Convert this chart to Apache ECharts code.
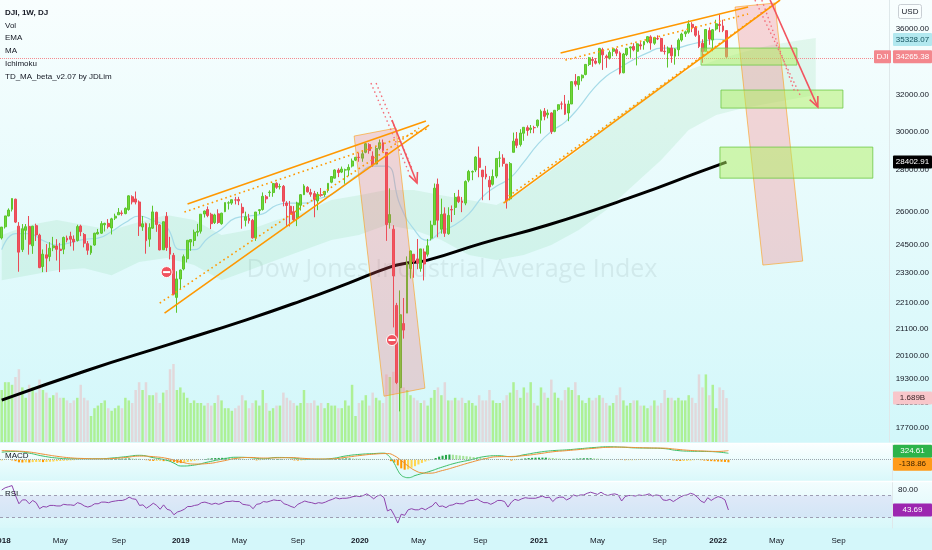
<!DOCTYPE html>
<html>
<head>
<meta charset="utf-8">
<title>DJI 1W</title>
<script src="https://cdn.jsdelivr.net/npm/echarts@6.0.0/dist/echarts.min.js"></script>
<style>
html,body{margin:0;padding:0;background:#eafbfc;}
#chart{width:932px;height:550px;}
</style>
</head>
<body>
<div id="chart"></div>
<script>
// ================= DATA (weekly DJI, week of 2018-01-01 .. 2022-01-17) =================
const weekOpen = [
24809,25308,25800,26110,26584,25338,24300,25150,25320,24468,25360,24935,23580,24076,24000,24380,24458,24318,24317,24800,24883,24753,24700,25340,24960,24560,24162,24500,24988,25023,25400,25463,25255,25703,25855,25940,25910,26100,26700,26598,26453,25300,25451,24757,25246,25970,25390,24294,25779,24400,24053,22317,
23062,23474,23909,24629,24700,25062,25108,25890,26100,25880,25500,25900,25450,26000,26400,26400,26550,26570,26200,25600,25700,25600,24820,26050,26100,26700,26900,26900,27350,27170,27200,26400,26250,26000,25700,26300,26800,27150,26900,26850,26500,26800,26800,27000,27400,27600,28000,27900,28000,28000,28200,28500,
28650,28600,28900,29300,28700,28300,29100,29400,28900,25500,25200,22000,19000,21300,21700,23500,24100,23900,23500,24200,24100,24800,25400,27300,25200,25900,25000,26100,26200,26700,26500,26400,27500,27900,28000,28600,28000,27800,27500,27300,27700,28600,28600,28300,26600,28900,29600,29300,29900,30200,30100,30200,30300,
30600,31100,30900,31000,30000,31200,31500,31500,31000,31500,32800,32600,33000,33200,33800,34100,34000,33900,34700,34300,34200,34600,34700,34500,33300,34400,34800,34900,34600,35000,35000,35200,35500,35100,35400,35400,34600,34500,34800,34300,34700,35300,35700,35800,36300,36100,35600,35100,34600,35900,35300,36000,
36300,36200,35900];
const weekHigh = [
25296,25804,26153,26617,26608,25520,25432,25432,25800,25350,25449,25000,24307,24540,24625,24858,24757,24592,24872,24915,25086,24925,25402,25403,25028,24674,24478,25040,25211,25562,25490,25658,25717,25907,26167,26057,26196,26769,26769,26951,26527,25801,25495,25465,26277,26000,25429,25538,25980,24858,24156,23381,
23450,24090,24706,24749,25180,25441,25883,26052,26241,25950,25905,26109,25949,26425,26485,26565,26695,26696,26388,26000,25897,25664,25984,26122,26907,26781,27008,27360,27398,27329,27265,26490,26500,26260,26464,26828,27306,27210,27079,26980,26930,27120,26975,27350,27700,28036,28090,28175,28070,28290,28582,28665,
28872,29009,29373,29373,28950,29235,29568,29568,28900,27102,25380,22100,22595,22293,24008,24262,24100,24764,24331,24346,24766,25585,27338,27580,26610,26200,26204,26289,26880,27030,26690,27491,28008,27981,28703,29199,28000,28210,27700,28029,28600,28958,28800,28300,28402,29933,29964,30116,30218,30319,30340,30300,30637,
31193,31272,31189,31037,31160,31470,31644,32009,31700,32793,33227,33098,33200,33800,34256,34256,34180,34811,34820,34400,34650,34800,34800,34600,34500,34800,34900,35100,35100,35171,35240,35530,35600,35500,35600,35450,35000,34900,35000,34800,35400,35765,35900,36566,36440,36200,35900,35350,36000,36100,36000,36600,
36952,36600,35900];
const weekLow = [
24741,25229,25788,26009,25478,23360,24195,24728,24083,24117,24674,23509,23344,23345,23798,24233,23830,23345,24104,24618,24442,24255,24652,24891,24397,24076,24077,24465,24966,24988,25097,25224,24965,25615,25855,25815,25879,26045,26338,26338,24899,25127,24123,24423,25214,25082,24268,24294,24243,23881,22397,21713,
22638,23418,23751,24247,24449,24883,25005,25730,25745,25208,25435,25442,25401,25978,26100,26318,26338,26305,25222,25325,25452,24780,24680,25883,26050,26396,26700,26700,27080,27050,26250,25339,25323,25550,25339,26050,26780,26900,26700,25743,26070,26700,26700,26900,27350,27590,27650,27850,27325,27700,28130,28450,
28419,28418,28850,28828,28169,28300,29012,28900,24681,25226,21154,19122,18214,20735,21700,23079,23109,23465,23361,23001,24000,24700,25400,24843,25000,24857,24950,25523,25845,26400,25976,26300,27400,27500,27900,27644,26537,27541,26538,27239,27600,28142,28176,26143,26523,28900,29118,29200,29500,29767,29900,29900,30200,
29881,30600,30700,29856,29953,31100,31200,30888,30548,31500,32500,32300,32800,33150,33700,33660,33800,33800,33473,33596,34100,34300,34300,33200,33271,34300,34200,34600,33741,34700,34700,35100,34700,35000,35300,34600,34400,33613,33900,33785,34300,35200,35500,35700,35800,35500,34800,33900,34600,35000,34600,35900,
35800,35800,34200];
const weekClose = [
25296,25803,26072,26617,25521,24191,25219,25310,24538,25336,24946,23533,24103,23933,24360,24463,24311,24263,24831,24715,24753,24635,25317,25090,24581,24271,24456,25019,25058,25451,25463,25313,25669,25790,25965,25917,26154,26743,26458,26447,25340,25444,24688,25271,25989,25413,24286,25538,24389,24101,22445,23062,
23433,23996,24706,24737,25064,25106,25883,26031,25820,25450,25849,25502,25929,26425,26412,26559,26543,26505,25942,25764,25586,24815,25984,26090,26720,26600,26922,27332,27154,27192,26485,26287,25886,25629,26403,26797,27220,26935,26820,26573,26817,26770,26958,27347,27681,28005,27876,28051,28015,28135,28455,28645,
28634,28824,29348,28990,28256,29102,29398,28992,25409,25865,23186,19174,21637,21053,23719,24242,23775,23724,24331,23685,24465,25383,27111,25606,25871,25016,25827,26075,26672,26470,26428,27433,27931,27930,28654,28133,27666,27657,27174,27682,28586,28606,28335,26501,28323,29479,29263,29910,30218,30046,30179,30199,30606,
31097,30814,30997,29983,31148,31458,31494,30932,31496,32779,32628,33072,33153,33801,34200,34043,33875,34778,34382,34208,34529,34756,34480,33290,34433,34786,34870,34688,35061,34935,35208,35515,35120,35455,35369,34607,34584,34798,34326,34746,35295,35677,35820,36328,36100,35602,34899,34580,35971,35365,35951,36338,
36231,35912,34265.38];
// volume, billions
const weekVolumeB = [
2.0,2.3,2.3,2.2,2.5,2.8,2.1,1.7,2.2,2.1,1.9,2.4,2.0,1.9,1.7,1.8,1.9,1.7,1.7,1.6,1.5,1.6,1.7,2.2,1.7,1.6,1.0,1.3,1.4,1.5,1.6,1.3,1.2,1.3,1.4,1.3,1.7,1.6,1.5,2.0,2.3,2.0,2.3,1.8,1.8,1.9,1.5,1.9,2.0,2.8,3.0,2.0,
2.1,1.9,1.7,1.5,1.6,1.5,1.5,1.4,1.5,1.4,1.5,1.8,1.6,1.3,1.3,1.2,1.3,1.4,1.8,1.6,1.3,1.5,1.6,1.4,2.0,1.5,1.2,1.3,1.4,1.4,1.9,1.7,1.6,1.5,1.4,1.5,2.0,1.5,1.5,1.6,1.4,1.5,1.3,1.5,1.4,1.4,1.3,1.3,1.6,1.4,2.2,1.0,
1.5,1.6,1.8,1.4,1.9,1.7,1.6,1.5,2.6,2.5,2.7,3.2,2.6,2.1,2.0,1.8,1.7,1.6,1.5,1.6,1.4,1.7,2.0,2.1,1.8,2.3,1.6,1.6,1.7,1.6,1.7,1.5,1.6,1.5,1.4,1.8,1.6,1.6,2.0,1.6,1.5,1.5,1.6,1.8,1.9,2.3,2.0,1.7,2.1,1.9,2.3,1.5,1.4,
2.1,1.9,1.7,2.4,1.9,1.7,1.6,2.0,2.1,2.0,2.3,1.8,1.6,1.5,1.7,1.6,1.7,1.8,1.7,1.5,1.4,1.5,1.8,2.1,1.6,1.4,1.5,1.6,1.6,1.4,1.4,1.3,1.4,1.6,1.4,1.5,2.0,1.7,1.7,1.6,1.7,1.6,1.6,1.8,1.7,1.5,2.6,2.1,2.6,1.8,2.2,1.3,
2.1,2.0,1.689];
// [week index, value] samples
const emaPoints = [[0,24300],[4,25000],[8,25000],[12,24700],[16,24500],[20,24600],[24,24750],[28,24800],[32,25100],[36,25500],[40,25800],[44,25600],[48,25300],[52,24300],[56,24300],[60,24800],[64,25200],[68,25700],[72,25800],[76,25900],[80,26300],[84,26400],[88,26400],[92,26600],[96,26800],[100,27300],[104,27800],[108,28200],[112,28200],[116,26300],[120,25200],[124,24700],[128,25100],[132,25400],[136,25900],[140,26700],[144,27200],[148,27600],[152,28400],[156,29300],[160,30000],[164,30500],[168,31300],[172,32300],[176,33100],[180,33600],[184,34100],[188,34500],[192,34800],[196,34800],[200,35000],[204,35200],[208,35350],[211,35328.07]];
const maPoints = [[0,18584],[25,19600],[49,20532],[71,21431],[87,22170],[101,22892],[113,23555],[118,23724],[124,23850],[140,24584],[159,25387],[185,26777],[203,27900],[211,28402.91]];
const cloudTop = [[0,24937],[8,25387],[16,25618],[24,25387],[32,25160],[40,25528],[48,25848],[56,25618],[64,24937],[72,25160],[80,25618],[88,25982],[96,26543],[104,26777],[112,27029],[120,27029],[128,26777],[136,26543],[144,26305],[152,27029],[160,28004],[168,29016],[176,30337],[184,31440],[192,32583],[200,33461],[208,34063],[216,34554],[224,34988],[232,35273],[237,35427]];
const cloudBottom = [[0,23011],[8,23216],[16,23425],[24,23508],[32,23216],[40,23764],[48,23940],[56,23638],[64,23011],[72,23425],[80,23850],[88,24282],[96,24718],[104,24937],[112,25387],[120,25160],[128,24718],[136,24070],[144,23850],[152,24070],[160,24502],[168,25160],[176,26075],[184,27263],[192,28505],[200,30067],[208,30884],[216,31270],[224,31557],[232,31834],[237,32001]];
const macdLine = [[0,380],[4,420],[8,330],[12,180],[16,80],[20,40],[24,40],[28,40],[32,80],[36,150],[40,220],[44,100],[48,-40],[50,-180],[52,-330],[56,-280],[60,-120],[64,20],[68,120],[72,100],[76,40],[80,110],[84,90],[88,20],[92,20],[96,60],[100,190],[104,270],[108,310],[111,330],[112,250],[113,60],[114,-200],[115,-550],[116,-800],[117,-900],[118,-930],[119,-900],[120,-820],[124,-620],[128,-380],[132,-170],[136,-20],[140,150],[144,200],[148,150],[152,260],[156,380],[160,460],[164,500],[168,560],[172,620],[176,660],[180,640],[184,600],[188,590],[192,570],[196,470],[200,430],[204,420],[208,390],[211,324.61]];
const signalLine = [[0,460],[4,440],[8,390],[12,280],[16,170],[20,90],[24,55],[28,40],[32,55],[36,110],[40,180],[44,150],[48,60],[52,-120],[56,-230],[60,-200],[64,-80],[68,60],[72,110],[76,80],[80,90],[84,100],[88,60],[92,30],[96,40],[100,120],[104,210],[108,280],[112,310],[114,200],[116,-50],[118,-330],[120,-560],[122,-680],[124,-700],[128,-560],[132,-360],[136,-150],[140,30],[144,150],[148,160],[152,210],[156,300],[160,400],[164,460],[168,520],[172,580],[176,630],[180,640],[184,620],[188,600],[192,590],[196,530],[200,470],[204,440],[208,420],[211,463.47]];
const macdHist = [
-40,-20,0,-40,-80,-140,-150,-140,-150,-130,-120,
-120,-130,-120,-110,-100,-80,-70,-60,-50,-40,
-30,-20,-10,-5,0,-10,-10,0,10,20,
25,30,40,45,50,55,60,55,45,40,
0,-30,-60,-70,-60,-60,-80,-80,-100,-130,
-170,-180,-150,-120,-90,-60,-30,0,30,50,
70,80,85,90,90,85,70,60,50,40,
20,0,-20,-40,-30,-20,0,10,20,30,
30,20,0,-20,-40,-50,-40,-30,-20,-10,
-10,-10,0,10,20,30,40,50,55,60,
60,55,50,45,40,35,30,25,15,10,
5,0,-80,-150,-300,-450,-520,-500,-420,-340,
-250,-170,-100,-40,20,80,150,200,240,260,
250,230,210,190,170,150,130,110,100,80,
50,20,0,-20,-20,-10,-20,-50,-30,10,
40,60,80,90,100,100,100,100,90,80,
60,50,40,30,30,40,50,60,70,70,
70,60,50,40,30,20,10,0,-10,-20,
-30,-30,-30,-25,-20,-15,-10,-5,0,5,
5,0,-10,-20,-40,-60,-70,-70,-60,-50,
-30,-20,-30,-50,-70,-80,-90,-100,-110,-120,-138.86];
const rsiValues = [
80,84,86,88,70,55,62,62,55,61,57,46,50,49,52,52,51,51,54,53,53,52,57,55,51,49,51,55,55,58,58,57,59,60,61,61,63,67,64,63,52,53,47,51,56,52,45,53,45,43,35,40,
42,45,50,50,52,53,57,58,56,54,56,54,56,59,59,60,59,59,54,53,52,46,54,55,59,58,60,62,61,61,55,53,50,48,54,57,60,58,57,55,57,56,58,61,63,66,64,65,65,66,68,69,
68,70,73,69,64,69,71,66,42,45,34,20,36,34,44,46,44,44,47,44,48,51,58,50,51,48,52,53,56,55,55,59,61,61,64,60,57,57,54,57,61,61,59,49,58,63,61,64,66,65,65,65,67,
69,66,67,59,65,67,67,62,65,71,69,71,71,74,76,74,72,76,72,70,72,73,71,60,68,70,70,69,71,70,71,73,69,71,70,62,61,63,59,63,67,70,71,74,72,67,60,57,66,61,65,68,
66,62,43.69];
const priceTicks = [36000,34000,32000,30000,28000,26000,24500,23300,22100,21100,20100,19300,18500,17700];
const rsiTicks = [80];
const rsiBands = [30,70];
// chart drawings, in [week index, price]
const wedgeSolid = [
  [[54.1,26353],[123.5,30553]],
  [[47.4,21697],[124.4,30337]],
  [[162.7,34493],[217.3,37440]],
  [[146.1,26400],[226.6,37910]]];
const wedgeDotted = [
  [[53.2,25982],[124.4,30176]],
  [[46.0,22090],[121.5,30176]],
  [[164.1,34063],[217.3,36976]],
  [[147.6,26730],[224.5,37573]]];
const pinkZones = [
  [[102.6,29750],[114.8,30176],[123.2,18983],[111.3,18713]],
  [[213.5,37440],[225.1,37707],[233.2,23808],[221.6,23639]]];
const greenZones = [
  [[203.6,34800],[231.5,33761]],
  [[209.4,32291],[244.9,31270]],
  [[209.1,29171],[253.6,27600]]];
const arrowSolid = [
  [[113.6,30611],[120.9,27360]],
  [[223.7,37910],[237.6,31327]]];
const arrowDotted = [
  [[107.5,32695],[118.5,27900]],
  [[109.0,32695],[119.4,28101]],
  [[219.3,37910],[232.7,31889]],
  [[221.3,37910],[230.9,32177]]];
const tdMarkers = [[48,23346],[113.6,20683]];
const lastEma = 35328.07, lastClose = 34265.38, lastMa = 28402.91, lastVolB = 1.689, lastMacd = 324.61, lastHist = -138.86, lastRsi = 43.69;
const legendLines = ['DJI, 1W, DJ','Vol','EMA','MA','Ichimoku','TD_MA_beta_v2.07 by JDLim'];
const watermark = 'Dow Jones Industrial Average Index';
const timeLabelMonths = [0,4,8];

// ================= CHART =================
const N_CAT = 259;
const weeks = [];
(function(){ let t = Date.UTC(2018,0,1); for (let k=0;k<N_CAT;k++){ weeks.push(new Date(t).toISOString().slice(0,10)); t += 7*864e5; } })();
const MON = ['Jan','Feb','Mar','Apr','May','Jun','Jul','Aug','Sep','Oct','Nov','Dec'];
function labelMonth(v){
  const d = new Date(v+'T00:00:00Z'); const e = new Date(d.getTime()+6*864e5);
  if (d.getUTCDate()===1) return [d.getUTCMonth(), d.getUTCFullYear()];
  if (e.getUTCMonth()!==d.getUTCMonth()) return [e.getUTCMonth(), e.getUTCFullYear()];
  return null;
}
const FONT = "'Liberation Sans',Arial,sans-serif";
const FS = 8;
const TXT = '#131722';
const L = Math.log;
const P_MAX = 37912, P_MIN = 17247;

const chart = echarts.init(document.getElementById('chart'), null, {renderer:'canvas'});

function makeXY(api){
  return function(i,p){
    const i0 = Math.floor(i), f = i - i0;
    const a = api.coord([i0, L(p)]);
    if (!f) return a;
    const b = api.coord([i0+1, L(p)]);
    return [a[0]+(b[0]-a[0])*f, a[1]];
  };
}
function head(p0,p1,len,ang){
  const dx=p1[0]-p0[0], dy=p1[1]-p0[1], a=Math.atan2(dy,dx);
  return [[p1[0]-len*Math.cos(a-ang), p1[1]-len*Math.sin(a-ang)], p1, [p1[0]-len*Math.cos(a+ang), p1[1]-len*Math.sin(a+ang)]];
}

const ORANGE = '#ff9800';
const candleData = weekOpen.map((o,i)=>[L(o), L(weekClose[i]), L(weekLow[i]), L(weekHigh[i])]);
const volData = weekVolumeB.map((v,i)=>({value:v, itemStyle:{color: weekClose[i]>=weekOpen[i] ? 'rgba(160,238,115,0.75)' : 'rgba(228,210,213,0.85)'}}));
const histData = macdHist.map((v,i)=>{
  const prev = i>0 ? macdHist[i-1] : v; let c;
  if (v>=0) c = v>=prev ? '#26a648' : '#a6e39a'; else c = v<prev ? '#ff9800' : '#ffd54f';
  return {value:v, itemStyle:{color:c}};
});

const xBase = {type:'category', data:weeks, boundaryGap:true, axisTick:{show:false}, axisLine:{show:false}, axisLabel:{show:false}, splitLine:{show:false}};

const option = {
  animation:false,
  backgroundColor:'transparent',
  grid:[
    {left:0, right:40, top:0, height:442},
    {left:0, right:40, top:445, height:36},
    {left:0, right:40, top:482, height:46}
  ],
  xAxis:[
    Object.assign({}, xBase, {gridIndex:0}),
    Object.assign({}, xBase, {gridIndex:1}),
    Object.assign({}, xBase, {gridIndex:2})
  ],
  yAxis:[
    {gridIndex:0, type:'value', position:'right', min:L(P_MIN), max:L(P_MAX), scale:true,
     axisLine:{show:true, lineStyle:{color:'#dfe8ea'}}, axisTick:{show:false}, splitLine:{show:false},
     axisLabel:{customValues:priceTicks.map(L), formatter:(v)=>Math.round(Math.exp(v)).toFixed(2), color:TXT, fontSize:FS, fontFamily:FONT, margin:6}},
    {gridIndex:0, type:'value', min:0, max:17, show:false},
    {gridIndex:1, type:'value', position:'right', min:-1100, max:750, axisLine:{show:true, lineStyle:{color:'#dfe8ea'}}, axisTick:{show:false}, axisLabel:{show:false}, splitLine:{show:false}},
    {gridIndex:2, type:'value', position:'right', min:11, max:94.5, axisLine:{show:true, lineStyle:{color:'#dfe8ea'}}, axisTick:{show:false}, splitLine:{show:false},
     axisLabel:{customValues:rsiTicks, formatter:(v)=>v.toFixed(2), color:TXT, fontSize:FS, fontFamily:FONT, margin:6}}
  ],
  series:[
    {type:'custom', name:'cloud', xAxisIndex:0, yAxisIndex:0, clip:true, z:1, silent:true, data:[[0, L(25000)]],
     renderItem:(params, api)=>{
       const xy = makeXY(api);
       const pts = cloudTop.map(d=>xy(d[0],d[1])).concat(cloudBottom.slice().reverse().map(d=>xy(d[0],d[1])));
       return {type:'polygon', shape:{points:pts}, style:{fill:'rgba(95,200,120,0.13)'}};
     }},
    {type:'bar', name:'Vol', xAxisIndex:0, yAxisIndex:1, data:volData, barWidth:'72%', z:2, silent:true},
    {type:'line', name:'EMA', xAxisIndex:0, yAxisIndex:0, data:emaPoints.map(d=>[d[0], L(d[1])]), smooth:true, showSymbol:false, connectNulls:true, z:3, silent:true,
     lineStyle:{color:'#a6dbe8', width:1.2}},
    {type:'line', name:'MA', xAxisIndex:0, yAxisIndex:0, data:maPoints.map(d=>[d[0], L(d[1])]), smooth:true, showSymbol:false, z:4, silent:true,
     lineStyle:{color:'#000000', width:3}},
    {type:'candlestick', name:'DJI', xAxisIndex:0, yAxisIndex:0, data:candleData, barWidth:'70%', z:5, silent:true,
     itemStyle:{color:'#6fd83a', color0:'#f0525e', borderColor:'#5cc52c', borderColor0:'#ea4a56', borderWidth:1},
     markLine:{symbol:'none', silent:true, label:{show:false}, lineStyle:{color:'#f58a8f', type:'dotted', width:1},
       data:[{yAxis:L(lastClose)}]}},
    {type:'custom', name:'drawings', xAxisIndex:0, yAxisIndex:0, clip:true, z:6, silent:true, data:[[0, L(25000)]],
     renderItem:(params, api)=>{
       const xy = makeXY(api); const ch = [];
       pinkZones.forEach(z=>ch.push({type:'polygon', shape:{points:z.map(p=>xy(p[0],p[1]))}, style:{fill:'rgba(247,90,100,0.25)', stroke:'rgba(255,152,0,0.55)', lineWidth:1}}));
       greenZones.forEach(z=>{ const a=xy(z[0][0],z[0][1]), b=xy(z[1][0],z[1][1]);
         ch.push({type:'rect', shape:{x:a[0], y:a[1], width:b[0]-a[0], height:b[1]-a[1]}, style:{fill:'rgba(175,240,95,0.5)', stroke:'rgba(110,200,70,0.8)', lineWidth:1}}); });
       wedgeSolid.forEach(l=>ch.push({type:'polyline', shape:{points:l.map(p=>xy(p[0],p[1]))}, style:{stroke:ORANGE, lineWidth:1.6, fill:null}}));
       wedgeDotted.forEach(l=>ch.push({type:'polyline', shape:{points:l.map(p=>xy(p[0],p[1]))}, style:{stroke:ORANGE, lineWidth:1.6, lineDash:[1.6,3.2], fill:null}}));
       arrowDotted.forEach(l=>ch.push({type:'polyline', shape:{points:l.map(p=>xy(p[0],p[1]))}, style:{stroke:'#f56d78', lineWidth:1.4, lineDash:[1.5,3], fill:null}}));
       arrowSolid.forEach(l=>{ const p0=xy(l[0][0],l[0][1]), p1=xy(l[1][0],l[1][1]);
         ch.push({type:'polyline', shape:{points:[p0,p1]}, style:{stroke:'#f2545f', lineWidth:1.6, fill:null}});
         ch.push({type:'polyline', shape:{points:head(p0,p1,11,0.42)}, style:{stroke:'#f2545f', lineWidth:1.6, fill:null}}); });
       tdMarkers.forEach(m=>{ const c=xy(m[0],m[1]);
         ch.push({type:'circle', shape:{cx:c[0], cy:c[1], r:5.5}, style:{fill:'#f0525e', stroke:'#ffffff', lineWidth:1}});
         ch.push({type:'rect', shape:{x:c[0]-3.5, y:c[1]-1, width:7, height:2}, style:{fill:'#ffffff'}}); });
       return {type:'group', children:ch};
     }},
    {type:'bar', name:'Histogram', xAxisIndex:1, yAxisIndex:2, data:histData, barWidth:'60%', silent:true, z:2,
     markLine:{symbol:'none', silent:true, label:{show:false}, lineStyle:{color:'#9aa6ad', type:'dotted', width:1}, data:[{yAxis:0}]}},
    {type:'line', name:'MACD', xAxisIndex:1, yAxisIndex:2, data:macdLine, smooth:true, showSymbol:false, silent:true, z:3, lineStyle:{color:'#3dbe67', width:1}},
    {type:'line', name:'Signal', xAxisIndex:1, yAxisIndex:2, data:signalLine, smooth:true, showSymbol:false, silent:true, z:3, lineStyle:{color:'#ee8f35', width:1}},
    {type:'line', name:'RSI', xAxisIndex:2, yAxisIndex:3, data:rsiValues, showSymbol:false, silent:true, z:3, lineStyle:{color:'#8e44ad', width:1},
     markArea:{silent:true, itemStyle:{color:'rgba(140,110,220,0.13)'}, data:[[{yAxis:rsiBands[0]},{yAxis:rsiBands[1]}]]},
     markLine:{symbol:'none', silent:true, label:{show:false}, lineStyle:{color:'#9d9db3', type:[3,3], width:1}, data:rsiBands.map(b=>({yAxis:b}))}}
  ]
};
chart.setOption(option);

// ---------- pane backgrounds, legends, time labels, last-value tags ----------
function grad(top, bottom){ return new echarts.graphic.LinearGradient(0,0,0,1,[{offset:0,color:top},{offset:1,color:bottom}]); }
const G = [];
G.push({type:'rect', z:-10, silent:true, shape:{x:0,y:0,width:932,height:443}, style:{fill:grad('#f8fefe','#d2f7fa')}});
G.push({type:'rect', z:-10, silent:true, shape:{x:0,y:444,width:932,height:37}, style:{fill:grad('#fbffff','#d9f8fa')}});
G.push({type:'rect', z:-10, silent:true, shape:{x:0,y:482,width:932,height:46}, style:{fill:grad('#f3fdfe','#d8f8fa')}});
G.push({type:'rect', z:-10, silent:true, shape:{x:0,y:528,width:932,height:22}, style:{fill:'#d4f7fa'}});
G.push({type:'line', z:50, silent:true, shape:{x1:0,y1:443.5,x2:932,y2:443.5}, style:{stroke:'#ffffff', lineWidth:1.5}});
G.push({type:'line', z:50, silent:true, shape:{x1:0,y1:481.5,x2:932,y2:481.5}, style:{stroke:'#ffffff', lineWidth:1.5}});
G.push({type:'text', z:0, silent:true, x:452, y:270, style:{text:watermark, fill:'rgba(110,130,135,0.13)', font:"25px 'Open Sans','Liberation Sans',sans-serif", align:'center', verticalAlign:'middle'}});
legendLines.forEach((t,k)=>G.push({type:'text', z:60, silent:true, x:5, y:12.5+k*12.8, style:{text:t, fill:TXT, font:(k===0?'bold ':'')+FS+"px "+FONT, verticalAlign:'middle'}}));
G.push({type:'text', z:60, silent:true, x:5, y:456, style:{text:'MACD', fill:TXT, font:FS+"px "+FONT, verticalAlign:'middle'}});
G.push({type:'text', z:60, silent:true, x:5, y:494, style:{text:'RSI', fill:TXT, font:FS+"px "+FONT, verticalAlign:'middle'}});
G.push({type:'rect', z:60, silent:true, shape:{x:898.5,y:4.5,width:23,height:14,r:2}, style:{fill:'rgba(255,255,255,0.3)', stroke:'#c9cfd4', lineWidth:1}});
G.push({type:'text', z:61, silent:true, x:910, y:11.5, style:{text:'USD', fill:TXT, font:FS+"px "+FONT, align:'center', verticalAlign:'middle'}});

// time-axis labels placed through the category axis
weeks.forEach((w,idx)=>{
  const m = labelMonth(w);
  if (!m || timeLabelMonths.indexOf(m[0])<0) return;
  const x = chart.convertToPixel({xAxisIndex:2}, idx);
  const isYear = m[0]===0;
  G.push({type:'text', z:60, silent:true, x:x, y:540.5, style:{text: isYear ? String(m[1]) : MON[m[0]], fill:TXT,
    font:(isYear?'bold ':'')+FS+"px "+FONT, align:'center', verticalAlign:'middle'}});
});

function tag(y, text, bg, fg, x, w){
  x = x===undefined ? 893 : x; w = w===undefined ? 39 : w;
  G.push({type:'rect', z:70, silent:true, shape:{x:x, y:y-6.5, width:w, height:13, r:1}, style:{fill:bg}});
  G.push({type:'text', z:71, silent:true, x:x+w/2, y:y, style:{text:text, fill:fg, font:FS+"px "+FONT, align:'center', verticalAlign:'middle'}});
}
const yEma = chart.convertToPixel({yAxisIndex:0}, L(lastEma));
const yClose = chart.convertToPixel({yAxisIndex:0}, L(lastClose));
const yMa = chart.convertToPixel({yAxisIndex:0}, L(lastMa));
const yVol = chart.convertToPixel({yAxisIndex:1}, lastVolB);
let yMacd = chart.convertToPixel({yAxisIndex:2}, lastMacd);
let yHist = chart.convertToPixel({yAxisIndex:2}, lastHist);
if (yHist - yMacd < 13){ const c=(yHist+yMacd)/2; yMacd=c-6.5; yHist=c+6.5; }
const yRsi = chart.convertToPixel({yAxisIndex:3}, lastRsi);
tag(yEma, lastEma.toFixed(2), '#b2e8ef', '#14535e');
tag(yClose, 'DJI', '#f3878d', '#ffffff', 874, 17);
tag(yClose, lastClose.toFixed(2), '#f3878d', '#ffffff');
tag(yMa, lastMa.toFixed(2), '#000000', '#ffffff');
tag(yVol, lastVolB.toFixed(3)+'B', '#f8c6ca', '#3a2326');
tag(yMacd, lastMacd.toFixed(2), '#2db34a', '#ffffff');
tag(yHist, lastHist.toFixed(2), '#ff9b1a', '#3d2300');
tag(yRsi, lastRsi.toFixed(2), '#9c27b0', '#ffffff');
chart.setOption({graphic:{elements:G}});
</script>
</body>
</html>
